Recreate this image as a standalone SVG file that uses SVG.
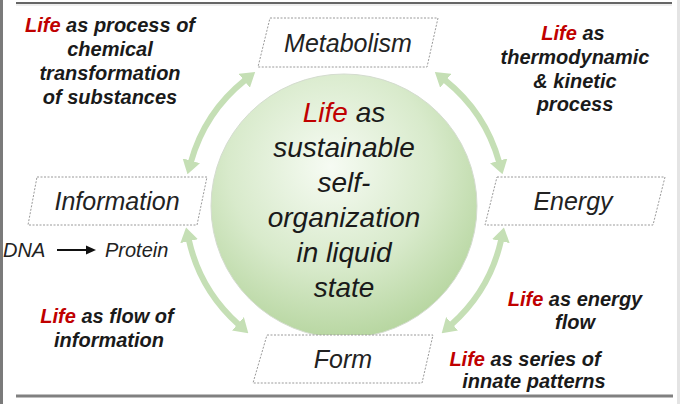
<svg xmlns="http://www.w3.org/2000/svg" width="680" height="404" viewBox="0 0 680 404">
<style>
.lbl{font-family:"Liberation Sans",Arial,sans-serif;font-weight:bold;font-style:italic;font-size:20px;fill:#1a1a1a;text-anchor:middle}
.red{fill:#c00000}
.node{font-family:"Liberation Sans",Arial,sans-serif;font-style:italic;font-size:25px;fill:#222;text-anchor:middle}
.ctr{font-family:"Liberation Sans",Arial,sans-serif;font-style:italic;font-size:28px;fill:#1a1a1a;text-anchor:middle}
.box{fill:#fff;stroke:#9a9a9a;stroke-width:1;stroke-dasharray:2 1.5}
.arc{fill:none;stroke:#c5dfb5;stroke-width:6;marker-start:url(#ah);marker-end:url(#ah)}
.plain{font-family:"Liberation Sans",Arial,sans-serif;font-style:italic;font-size:20px;fill:#222}
</style>
<defs>
<marker id="ah" viewBox="0 0 14 18" refX="1" refY="9" markerWidth="14" markerHeight="18" markerUnits="userSpaceOnUse" orient="auto-start-reverse">
<path d="M0,0 L14,9 L0,18 Z" fill="#c5dfb5"/>
</marker>
<radialGradient id="cg" cx="0.45" cy="0.35" r="0.7">
<stop offset="0" stop-color="#f6fbf3"/>
<stop offset="0.55" stop-color="#d8eacb"/>
<stop offset="1" stop-color="#b2d39a"/>
</radialGradient>
</defs>
<rect width="680" height="404" fill="#fff"/>
<g id="frame">
<rect x="0" y="0" width="3" height="404" fill="#7a7a7a"/>
<line x1="16" y1="3" x2="672" y2="3" stroke="#666" stroke-width="2"/>
<line x1="16" y1="5" x2="672" y2="5" stroke="#ddd" stroke-width="1"/>
<line x1="16" y1="396" x2="673" y2="396" stroke="#808080" stroke-width="3"/>
<rect x="677" y="0" width="3" height="404" fill="#e4e4e4"/>
</g>
<g id="center">
<ellipse cx="344" cy="206" rx="133" ry="132" fill="url(#cg)" stroke="#d4dccf" stroke-width="1"/>
<text class="ctr" x="344" y="122"><tspan class="red">Life</tspan> as</text>
<text class="ctr" x="344" y="157">sustainable</text>
<text class="ctr" x="344" y="192">self-</text>
<text class="ctr" x="344" y="227">organization</text>
<text class="ctr" x="344" y="262">in liquid</text>
<text class="ctr" x="344" y="297">state</text>
</g>
<g id="connectors">
<path class="arc" d="M245.0,80.1 A160,160 0 0,0 191.0,161.7"/>
<path class="arc" d="M445.0,80.1 A160,160 0 0,1 499.0,161.7"/>
<path class="arc" d="M188.9,240.2 A160,160 0 0,0 238.6,324.5"/>
<path class="arc" d="M501.1,240.2 A160,160 0 0,1 451.4,324.5"/>
</g>
<g id="metabolism">
<path class="box" d="M270,18 L438,18 L427,67 L258,67 Z"/>
<text class="node" x="348" y="52">Metabolism</text>
</g>
<g id="information">
<path class="box" d="M37,177 L207,177 L197,225 L28,225 Z"/>
<text class="node" x="117" y="210">Information</text>
</g>
<g id="energy">
<path class="box" d="M497,177 L665,177 L653,225 L485,225 Z"/>
<text class="node" x="573" y="210">Energy</text>
</g>
<g id="form">
<path class="box" d="M267,335 L433,335 L422,383 L253,383 Z"/>
<text class="node" x="343" y="368">Form</text>
</g>
<g id="dna">
<text class="plain" x="3" y="257">DNA</text>
<line x1="57" y1="250" x2="88" y2="250" stroke="#111" stroke-width="2"/>
<path d="M86,245.5 L96,250 L86,254.5 Z" fill="#111"/>
<text class="plain" x="105" y="257">Protein</text>
</g>
<g id="labels">
<text class="lbl" x="110" y="32"><tspan class="red">Life</tspan> as process of</text>
<text class="lbl" x="110" y="56">chemical</text>
<text class="lbl" x="110" y="80">transformation</text>
<text class="lbl" x="110" y="104">of substances</text>
<text class="lbl" x="573" y="40"><tspan class="red">Life</tspan> as</text>
<text class="lbl" x="575" y="64">thermodynamic</text>
<text class="lbl" x="575" y="88">&amp; kinetic</text>
<text class="lbl" x="575" y="111">process</text>
<text class="lbl" x="107" y="323"><tspan class="red">Life</tspan> as flow of</text>
<text class="lbl" x="109" y="347">information</text>
<text class="lbl" x="575" y="306"><tspan class="red">Life</tspan> as energy</text>
<text class="lbl" x="575" y="329">flow</text>
<text class="lbl" x="525" y="366"><tspan class="red">Life</tspan> as series of</text>
<text class="lbl" x="534" y="388">innate patterns</text>
</g>
</svg>
